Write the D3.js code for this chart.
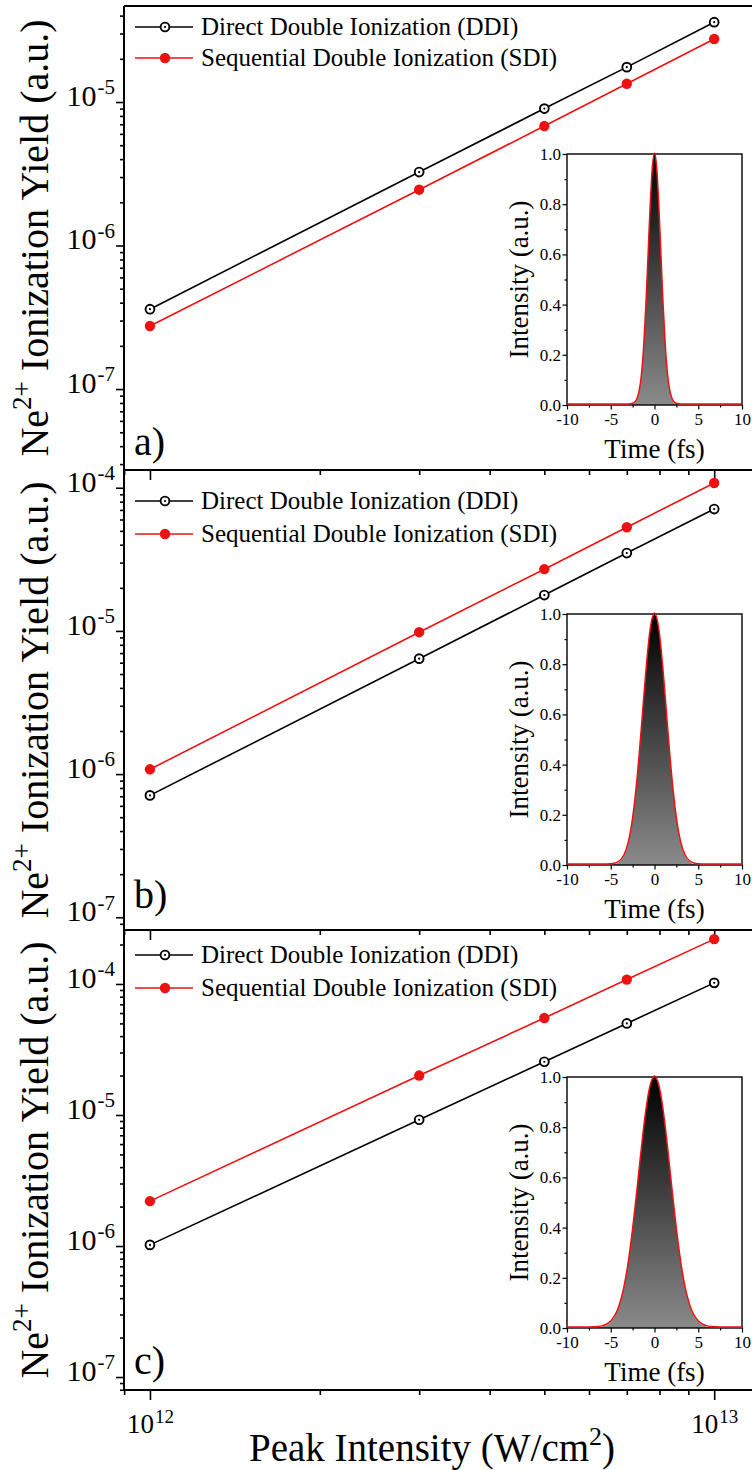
<!DOCTYPE html>
<html><head><meta charset="utf-8">
<script src="https://cdn.jsdelivr.net/npm/d3@7"></script>
<style>
html,body{margin:0;padding:0;background:#fff;}
svg{display:block;}
text{font-family:"Liberation Serif","Times New Roman",serif;fill:#000;}
</style></head><body>
<svg id="chart" width="752" height="1470"></svg>
<script>
// ---------- data ----------
const intensities = [1e12, 3e12, 5e12, 7e12, 1e13];
const ddiA = [3.6e-7, 3.25e-6, 9.0e-6, 1.75e-5, 3.6e-5];
const sdiA = [2.75e-7, 2.45e-6, 6.8e-6, 1.34e-5, 2.75e-5];
const ddiB = [7.1e-7, 6.4e-6, 1.78e-5, 3.5e-5, 7.1e-5];
const sdiB = [1.08e-6, 9.8e-6, 2.7e-5, 5.3e-5, 1.08e-4];
const ddiC = [1.02e-6, 9.2e-6, 2.55e-5, 5.0e-5, 1.02e-4];
const sdiC = [2.2e-6, 2.0e-5, 5.5e-5, 1.08e-4, 2.2e-4];
const seriesNames = ["Direct Double Ionization (DDI)", "Sequential Double Ionization (SDI)"];
const panelLabels = ["a)", "b)", "c)"];
const yDomainsLog = [[-7.564, -4.331], [-7.089, -3.876], [-7.099, -3.588]];
const xDomainLog = [11.954, 13.067];
const xMajorTicks = [1e12, 1e13];
const xMinorTicks = [9e11, 2e12, 3e12, 4e12, 5e12, 6e12, 7e12, 8e12, 9e12];

// inset pulses (time in fs, normalized intensity)
const timeA  = [-10, -3, -2.5, -2.25, -2, -1.75, -1.5, -1.25, -1, -0.75, -0.5, -0.25, 0, 0.25, 0.5, 0.75, 1, 1.25, 1.5, 1.75, 2, 2.25, 2.5, 3, 10];
const pulseA = [0, 0, 0.003, 0.008, 0.022, 0.053, 0.115, 0.223, 0.383, 0.583, 0.787, 0.942, 1, 0.942, 0.787, 0.583, 0.383, 0.223, 0.115, 0.053, 0.022, 0.008, 0.003, 0, 0];
const timeB  = [-10, -6, -5, -4.5, -4, -3.5, -3, -2.5, -2, -1.5, -1, -0.5, 0, 0.5, 1, 1.5, 2, 2.5, 3, 3.5, 4, 4.5, 5, 6, 10];
const pulseB = [0, 0, 0.001, 0.004, 0.013, 0.036, 0.087, 0.184, 0.339, 0.544, 0.763, 0.935, 1, 0.935, 0.763, 0.544, 0.339, 0.184, 0.087, 0.036, 0.013, 0.004, 0.001, 0, 0];
const timeC  = [-10, -8, -7, -6.5, -6, -5.5, -5, -4.5, -4, -3.5, -3, -2.5, -2, -1.5, -1, -0.5, 0, 0.5, 1, 1.5, 2, 2.5, 3, 3.5, 4, 4.5, 5, 5.5, 6, 6.5, 7, 8, 10];
const pulseC = [0, 0, 0.001, 0.002, 0.0045, 0.011, 0.024, 0.048, 0.091, 0.159, 0.259, 0.392, 0.549, 0.714, 0.861, 0.963, 1, 0.963, 0.861, 0.714, 0.549, 0.392, 0.259, 0.159, 0.091, 0.048, 0.024, 0.011, 0.0045, 0.002, 0.001, 0, 0];
const insetYTicks = [0, 0.2, 0.4, 0.6, 0.8, 1.0];
const insetYMinor = [0.1, 0.3, 0.5, 0.7, 0.9];
const insetXTicks = [-10, -5, 0, 5, 10];
const insetXMinor = [-7.5, -2.5, 2.5, 7.5];

// ---------- layout ----------
const L = {
  left: 124, right: 752,
  tops: [6, 470, 930], bottoms: [470, 930, 1390],
  legendRows: [[21, 52], [31, 64], [25, 58]],
  labelOffsets: [15, 22, 16],
  insetX: [567, 742], insetTopOff: [148, 144, 147], insetH: 251
};
const RED = "#ee1111";

const svg = d3.select("#chart");
const x = d3.scaleLog().domain(xDomainLog.map(v => Math.pow(10, v))).range([L.left, L.right]);
const defs = svg.append("defs");

const panels = [
  {ddi: ddiA, sdi: sdiA, t: timeA, p: pulseA},
  {ddi: ddiB, sdi: sdiB, t: timeB, p: pulseB},
  {ddi: ddiC, sdi: sdiC, t: timeC, p: pulseC}
];

function supLabel(sel, base, exp, baseSize, supSize) {
  sel.text("");
  sel.append("tspan").attr("font-size", baseSize).text(base);
  sel.append("tspan").attr("font-size", supSize).attr("dx", 1).attr("dy", "-0.55em").text(exp);
}

panels.forEach((P, i) => {
  const top = L.tops[i], bot = L.bottoms[i];
  const y = d3.scaleLog().domain(yDomainsLog[i].map(v => Math.pow(10, v))).range([bot, top]);
  const g = svg.append("g");

  // y ticks
  const lo = yDomainsLog[i][0], hi = yDomainsLog[i][1];
  const majors = [], minors = [];
  for (let e = Math.floor(lo); e <= Math.ceil(hi); e++) {
    const v = Math.pow(10, e);
    if (Math.log10(v) >= lo - 1e-9 && Math.log10(v) <= hi + 1e-9) majors.push(v);
    for (let k = 2; k <= 9; k++) {
      const m = k * v;
      if (Math.log10(m) >= lo && Math.log10(m) <= hi) minors.push(m);
    }
  }
  const yMinorAxis = g.append("g").attr("transform", `translate(${L.left},0)`)
    .call(d3.axisLeft(y).tickValues(minors).tickSize(4).tickSizeOuter(0).tickFormat(""));
  yMinorAxis.select(".domain").remove();
  const yMajorAxis = g.append("g").attr("transform", `translate(${L.left},0)`)
    .call(d3.axisLeft(y).tickValues(majors).tickSize(8).tickSizeOuter(0).tickFormat(""));
  yMajorAxis.select(".domain").remove();
  yMajorAxis.selectAll(".tick text").each(function(d) {
    const t = d3.select(this).attr("x", -9).attr("dy", "0.34em").attr("fill", "#000")
      .attr("text-anchor", "end");
    supLabel(t, "10", String(Math.round(Math.log10(d))), 30, 21);
  });
  [yMinorAxis, yMajorAxis].forEach(a => a.selectAll("line").attr("stroke", "#000").attr("stroke-width", 1.6));

  // x ticks at bottom of panel
  const xMinor = g.append("g").attr("transform", `translate(0,${bot})`)
    .call(d3.axisBottom(x).tickValues(xMinorTicks).tickSize(5).tickSizeOuter(0).tickFormat(""));
  xMinor.select(".domain").remove();
  const xMajor = g.append("g").attr("transform", `translate(0,${bot})`)
    .call(d3.axisBottom(x).tickValues(xMajorTicks).tickSize(10).tickSizeOuter(0).tickFormat(""));
  xMajor.select(".domain").remove();
  [xMinor, xMajor].forEach(a => a.selectAll("line").attr("stroke", "#000").attr("stroke-width", 1.6));
  if (i === 2) {
    xMajor.selectAll(".tick text").each(function(d) {
      const t = d3.select(this).attr("y", 0).attr("dy", 0).attr("fill", "#000")
        .attr("transform", "translate(0,43)");
      supLabel(t, "10", String(Math.round(Math.log10(d))), 27, 19);
    });
  }

  // frame lines
  g.append("line").attr("x1", L.left).attr("x2", L.right).attr("y1", top).attr("y2", top)
    .attr("stroke", "#000").attr("stroke-width", 2);
  g.append("line").attr("x1", L.left).attr("x2", L.right).attr("y1", bot).attr("y2", bot)
    .attr("stroke", "#000").attr("stroke-width", 2);
  g.append("line").attr("x1", L.left).attr("x2", L.left).attr("y1", top).attr("y2", bot)
    .attr("stroke", "#000").attr("stroke-width", 2);

  // inset
  const itop = top + L.insetTopOff[i], ibot = itop + L.insetH;
  const ix = d3.scaleLinear().domain([-10, 10]).range(L.insetX);
  const iy = d3.scaleLinear().domain([0, 1]).range([ibot, itop]);
  const gid = "grad" + i;
  const grad = defs.append("linearGradient").attr("id", gid)
    .attr("gradientUnits", "userSpaceOnUse").attr("x1", 0).attr("x2", 0).attr("y1", itop).attr("y2", ibot);
  grad.append("stop").attr("offset", "0%").attr("stop-color", "#000");
  grad.append("stop").attr("offset", "100%").attr("stop-color", "#8a8a8a");
  const pts = P.t.map((t, k) => [t, P.p[k]]);
  const ig = g.append("g");
  ig.append("path").datum(pts)
    .attr("d", d3.area().x(d => ix(d[0])).y0(iy(0)).y1(d => iy(d[1])).curve(d3.curveMonotoneX))
    .attr("fill", `url(#${gid})`);
  const iyMinor = ig.append("g").attr("transform", `translate(${L.insetX[0]},0)`)
    .call(d3.axisLeft(iy).tickValues(insetYMinor).tickSize(2.5).tickSizeOuter(0).tickFormat(""));
  iyMinor.select(".domain").remove();
  const iyMajor = ig.append("g").attr("transform", `translate(${L.insetX[0]},0)`)
    .call(d3.axisLeft(iy).tickValues(insetYTicks).tickSize(4.5).tickSizeOuter(0).tickFormat(d3.format(".1f")));
  iyMajor.select(".domain").remove();
  iyMajor.selectAll("text").attr("font-size", 17).attr("fill", "#000").attr("x", -6)
    .attr("font-family", "Liberation Serif");
  const ixMinor = ig.append("g").attr("transform", `translate(0,${ibot})`)
    .call(d3.axisBottom(ix).tickValues(insetXMinor).tickSize(2.5).tickSizeOuter(0).tickFormat(""));
  ixMinor.select(".domain").remove();
  const ixMajor = ig.append("g").attr("transform", `translate(0,${ibot})`)
    .call(d3.axisBottom(ix).tickValues(insetXTicks).tickSize(4.5).tickSizeOuter(0).tickFormat(d => String(d)));
  ixMajor.select(".domain").remove();
  ixMajor.selectAll("text").attr("font-size", 17).attr("fill", "#000").attr("y", 8)
    .attr("font-family", "Liberation Serif");
  [iyMinor, iyMajor, ixMinor, ixMajor].forEach(a => a.selectAll("line").attr("stroke", "#000").attr("stroke-width", 1.2));
  ig.append("rect").attr("x", L.insetX[0]).attr("y", itop)
    .attr("width", L.insetX[1] - L.insetX[0]).attr("height", L.insetH)
    .attr("fill", "none").attr("stroke", "#000").attr("stroke-width", 1.4);
  ig.append("path").datum(pts)
    .attr("d", d3.line().x(d => ix(d[0])).y(d => iy(d[1]) - 1).curve(d3.curveMonotoneX))
    .attr("fill", "none").attr("stroke", RED).attr("stroke-width", 1.5);
  ig.append("text").attr("transform", `translate(${L.insetX[0] - 39},${(itop + ibot) / 2}) rotate(-90)`)
    .attr("text-anchor", "middle").attr("font-size", 27).text("Intensity (a.u.)");
  ig.append("text").attr("x", (L.insetX[0] + L.insetX[1]) / 2).attr("y", ibot + 53)
    .attr("text-anchor", "middle").attr("font-size", 27).text("Time (fs)");

  // series
  const line = d3.line().x(d => x(d[0])).y(d => y(d[1]));
  const ddiPts = intensities.map((v, k) => [v, P.ddi[k]]);
  const sdiPts = intensities.map((v, k) => [v, P.sdi[k]]);
  g.append("path").datum(ddiPts).attr("d", line).attr("fill", "none").attr("stroke", "#000").attr("stroke-width", 1.6);
  g.append("path").datum(sdiPts).attr("d", line).attr("fill", "none").attr("stroke", RED).attr("stroke-width", 1.6);
  g.selectAll(".sdi").data(sdiPts).enter().append("circle")
    .attr("cx", d => x(d[0])).attr("cy", d => y(d[1])).attr("r", 5.2).attr("fill", RED);
  g.selectAll(".ddi").data(ddiPts).enter().append("circle")
    .attr("cx", d => x(d[0])).attr("cy", d => y(d[1])).attr("r", 4.4)
    .attr("fill", "#fff").attr("stroke", "#000").attr("stroke-width", 1.9);
  g.selectAll(".ddid").data(ddiPts).enter().append("circle")
    .attr("cx", d => x(d[0])).attr("cy", d => y(d[1])).attr("r", 1.1).attr("fill", "#000");

  // legend
  const lg = g.append("g");
  L.legendRows[i].forEach((off, k) => {
    const ly = top + off;
    const col = k === 0 ? "#000" : RED;
    lg.append("line").attr("x1", 135).attr("x2", 193).attr("y1", ly).attr("y2", ly)
      .attr("stroke", col).attr("stroke-width", 1.6);
    if (k === 0) {
      lg.append("circle").attr("cx", 165).attr("cy", ly).attr("r", 4.4).attr("fill", "#fff")
        .attr("stroke", "#000").attr("stroke-width", 1.9);
      lg.append("circle").attr("cx", 165).attr("cy", ly).attr("r", 1.1).attr("fill", "#000");
    } else {
      lg.append("circle").attr("cx", 165).attr("cy", ly).attr("r", 5.2).attr("fill", RED);
    }
    lg.append("text").attr("x", 201).attr("y", ly).attr("dy", "0.33em").attr("font-size", 25)
      .text(seriesNames[k]);
  });

  // panel label
  g.append("text").attr("x", 134).attr("y", bot - L.labelOffsets[i]).attr("font-size", 40)
    .text(panelLabels[i]);

  // y title
  const yt = g.append("text").attr("transform", `translate(48,${(top + bot) / 2}) rotate(-90)`)
    .attr("text-anchor", "middle").attr("font-size", 40);
  yt.append("tspan").text("Ne");
  yt.append("tspan").attr("font-size", 27).attr("dy", "-0.62em").text("2+");
  yt.append("tspan").attr("dy", "0.42em").text(" Ionization Yield (a.u.)");
});

// x title
const xt = svg.append("text").attr("x", 432).attr("y", 1461).attr("text-anchor", "middle").attr("font-size", 39);
xt.append("tspan").text("Peak Intensity (W/cm");
xt.append("tspan").attr("font-size", 26).attr("dy", "-0.6em").text("2");
xt.append("tspan").attr("dy", "0.4em").text(")");
</script>
</body></html>
